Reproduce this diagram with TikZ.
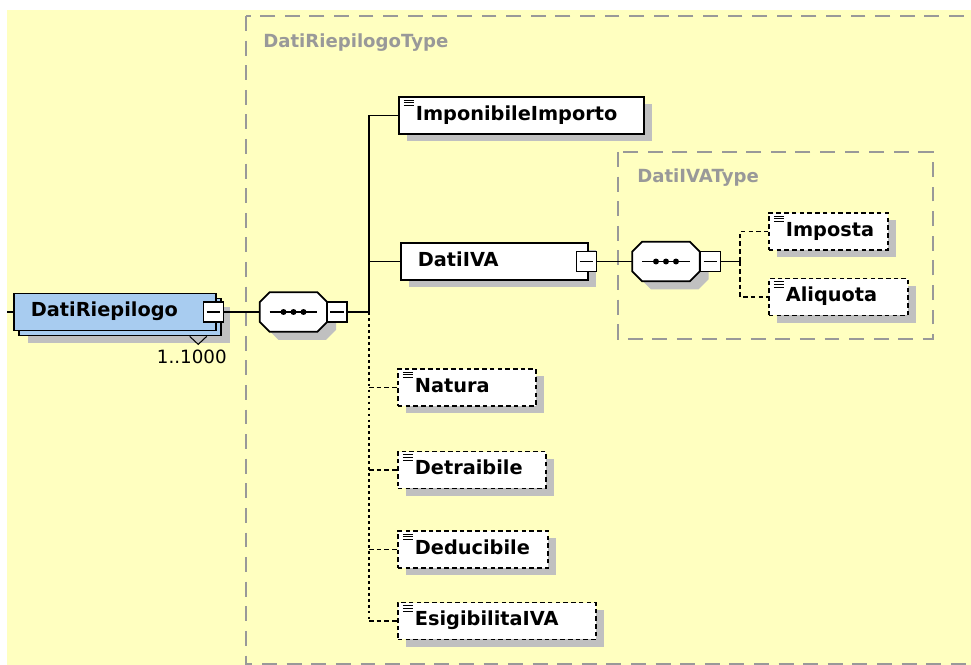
\documentclass[tikz,border=0pt]{standalone}
\usepackage{fontspec}
\setmainfont{DejaVu Sans}
\usetikzlibrary{shadows}

\definecolor{bgyellow}{RGB}{255,255,192}
\definecolor{framegray}{RGB}{153,153,153}
\definecolor{shadowgray}{RGB}{192,192,192}
\definecolor{elemblue}{RGB}{168,204,240}

% octagon round a sequence node
\newcommand{\octpath}[1]{([xshift=0.2cm]#1.north west) -- ([xshift=-0.2cm]#1.north east)
	-- ([yshift=-0.2cm]#1.north east) -- ([yshift=0.2cm]#1.south east)
	-- ([xshift=-0.2cm]#1.south east) -- ([xshift=0.2cm]#1.south west)
	-- ([yshift=0.2cm]#1.south west) -- ([yshift=-0.2cm]#1.north west) -- cycle}

\tikzset{
	conn/.style={line width=1pt},
	optline/.style={line width=1pt, dash pattern=on 2.6pt off 1.8pt},
	optvert/.style={line width=1pt, dash pattern=on 1.6pt off 1.8pt},
	typeframe/.style={draw=framegray, line width=1.1pt, dash pattern=on 8.5pt off 5.5pt},
	typelabel/.style={anchor=west, inner sep=0pt, text=framegray, font=\bfseries\fontsize{10.3pt}{12pt}\selectfont},
	boxshadow/.style={general shadow={fill=shadowgray, shadow xshift=4.5pt, shadow yshift=-4pt}},
	elembase/.style={draw, fill=white, line width=1pt, anchor=west, minimum height=0.74cm,
		inner xsep=0.34cm, inner ysep=0pt, text height=0.73em, text depth=0.2em,
		text width=#1, align=left, font=\bfseries\fontsize{11pt}{13pt}\selectfont},
	elem/.style={elembase=#1, boxshadow},
	simple/.style={path picture={
		\foreach \k in {1.7pt,3.4pt,5.1pt}
			\draw[solid, line width=0.55pt] ([xshift=2.8pt,yshift=-\k]path picture bounding box.north west) -- ++(5.6pt,0);}},
	optelem/.style={elem=#1, simple, dash pattern=on 2.6pt off 1.8pt},
	minusbox/.style={draw, fill=white, line width=1pt, minimum size=0.4cm, inner sep=0pt,
		path picture={\draw[line width=1pt] ([xshift=1.8pt]path picture bounding box.west) -- ([xshift=-1.8pt]path picture bounding box.east);}},
	seqbox/.style={minimum width=1.34cm, minimum height=0.78cm, inner sep=0pt}
}

\begin{document}
\begin{tikzpicture}[x=0.02cm, y=-0.02cm]
	\useasboundingbox (0,0) rectangle (971,665);
	\clip (0,0) rectangle (971,665);
	
	% Background and type frames
	\fill[bgyellow] (7,10) rectangle (971,665);
	\draw[typeframe] (246,16) rectangle (990,664);
	\draw[typeframe] (618,152) rectangle (933,339);
	\node[typelabel] (rtype) at (263,43) {DatiRiepilogoType};
	\node[typelabel] (ivatype) at (637,178) {DatiIVAType};
	
	% Root element
	\coordinate (in) at (7,312);
	\node[elembase=3.36cm, fill=elemblue,
		general shadow={fill=shadowgray, shadow xshift=8pt, shadow yshift=-7.4pt},
		copy shadow={shadow xshift=3pt, shadow yshift=-2.8pt}] (dr) at (13,312) {DatiRiepilogo};
	\node[minusbox] (drm) at (213.5,312) {};
	\draw[line width=0.6pt] ([shift={(-27,5)}]dr.south east) -- ([shift={(-18.5,13)}]dr.south east) -- ([shift={(-10,5)}]dr.south east);
	\node[anchor=east, inner sep=0pt, font=\fontsize{10.4pt}{12pt}\selectfont] (drocc) at (227,357) {1..1000};
	
	% Sequences
	\node[seqbox] (seq1) at (293.5,312) {};
	\node[seqbox] (seq2) at (666,261.5) {};
	\foreach \s in {seq1,seq2} {
		\fill[shadowgray, transform canvas={xshift=5pt, yshift=-4.5pt}] \octpath{\s};
		\filldraw[fill=white, line width=1pt] \octpath{\s};
		\draw[conn] ([xshift=-0.48cm]\s.center) -- ([xshift=0.48cm]\s.center);
		\foreach \d in {-0.2cm,0cm,0.2cm}
			\fill[black] ([xshift=\d]\s.center) circle (1.7pt);
	}
	\node[minusbox] (seq1m) at (337,312) {};
	\node[minusbox] (seq2m) at (710.5,261.5) {};
	\coordinate (t1) at (369,312);
	\coordinate (t2) at (740,261.5);
	
	% Children of DatiRiepilogoType
	\node[elem=4.22cm, simple] (imp) at (398,115.5) {ImponibileImporto};
	\node[elem=3.06cm] (iva) at (400,261.5) {DatiIVA};
	\node[minusbox] (ivam) at (586.5,261.5) {};
	\node[optelem=2.08cm] (nat) at (397,387.5) {Natura};
	\node[optelem=2.28cm] (detr) at (397,470) {Detraibile};
	\node[optelem=2.32cm] (dedu) at (397,549.5) {Deducibile};
	\node[optelem=3.28cm] (esi) at (397,621) {EsigibilitaIVA};
	
	% Children of DatiIVAType
	\node[optelem=1.70cm] (imposta) at (768,231.5) {Imposta};
	\node[optelem=2.10cm] (aliq) at (768,297) {Aliquota};
	
	% Connectors
	\draw[conn] (in) -- (dr.west);
	\draw[conn] (drm.east) -- (seq1.west);
	\draw[conn] (seq1m.east) -- (t1) |- (imp.west);
	\draw[conn] (t1) |- (iva.west);
	\draw[optvert] (t1) -- (t1 |- esi.west);
	\foreach \n in {nat,detr,dedu,esi}
		\draw[optline] (t1 |- \n.west) -- (\n.west);
	\draw[conn] (ivam.east) -- (seq2.west);
	\draw[conn] (seq2m.east) -- (t2);
	\draw[optline] (t2) |- (imposta.west);
	\draw[optline] (t2) |- (aliq.west);
\end{tikzpicture}
\end{document}
